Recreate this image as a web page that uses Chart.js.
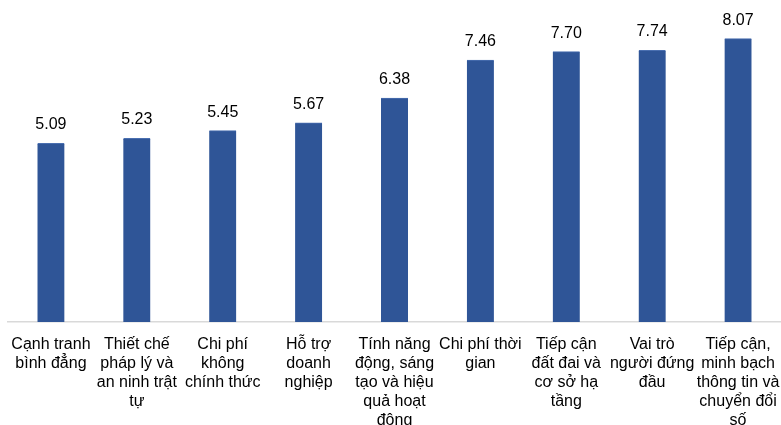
<!DOCTYPE html>
<html>
<head>
<meta charset="utf-8">
<script src="https://cdn.jsdelivr.net/npm/chart.js@4/dist/chart.umd.min.js"></script>
<style>
  html, body { margin: 0; padding: 0; background: #ffffff; }
  #wrap { width: 781px; height: 425px; position: relative; }
</style>
</head>
<body>
<div id="wrap"><canvas id="c"></canvas></div>
<script>
// Index scores per component, with wrapped category names
const categories = [
  ["Cạnh tranh", "bình đẳng"],
  ["Thiết chế", "pháp lý và", "an ninh trật", "tự"],
  ["Chi phí", "không", "chính thức"],
  ["Hỗ trợ", "doanh", "nghiệp"],
  ["Tính năng", "động, sáng", "tạo và hiệu", "quả hoạt", "động"],
  ["Chi phí thời", "gian"],
  ["Tiếp cận", "đất đai và", "cơ sở hạ", "tầng"],
  ["Vai trò", "người đứng", "đầu"],
  ["Tiếp cận,", "minh bạch", "thông tin và", "chuyển đổi", "số"]
];
const scores = [5.09, 5.23, 5.45, 5.67, 6.38, 7.46, 7.70, 7.74, 8.07];
const yMin = 0;
const yMax = 9;

const FONT = "'Liberation Sans', Arial, sans-serif";

// Writes each bar's value above it
const valueLabels = {
  id: 'valueLabels',
  afterDatasetsDraw(chart) {
    const ctx = chart.ctx;
    const meta = chart.getDatasetMeta(0);
    ctx.save();
    ctx.font = '16px ' + FONT;
    ctx.fillStyle = '#000000';
    ctx.textAlign = 'center';
    ctx.textBaseline = 'alphabetic';
    meta.data.forEach((bar, i) => {
      ctx.fillText(scores[i].toFixed(2), bar.x, bar.y - 14);
    });
    ctx.restore();
  }
};

new Chart(document.getElementById('c'), {
  type: 'bar',
  data: {
    labels: categories,
    datasets: [{
      data: scores,
      backgroundColor: '#2F5597',
      borderColor: '#4A6FB0',
      borderWidth: { top: 1, left: 0, right: 0, bottom: 0 },
      barThickness: 27
    }]
  },
  options: {
    responsive: true,
    maintainAspectRatio: false,
    animation: false,
    layout: { padding: { left: 8, right: -3, top: 6, bottom: 0 } },
    plugins: {
      legend: { display: false },
      tooltip: { enabled: false }
    },
    scales: {
      x: {
        grid: { display: false, drawTicks: false },
        border: { display: true, color: '#d9d9d9', width: 1.5 },
        ticks: {
          color: '#000000',
          font: { family: FONT, size: 16, lineHeight: 1.19 },
          padding: 13,
          maxRotation: 0,
          autoSkip: false
        },
        afterFit(scale) {
          scale.height = 103;
          scale.paddingLeft = 0;
          scale.paddingRight = 0;
        }
      },
      y: {
        display: false,
        min: yMin,
        max: yMax
      }
    }
  },
  plugins: [valueLabels]
});
</script>
</body>
</html>
